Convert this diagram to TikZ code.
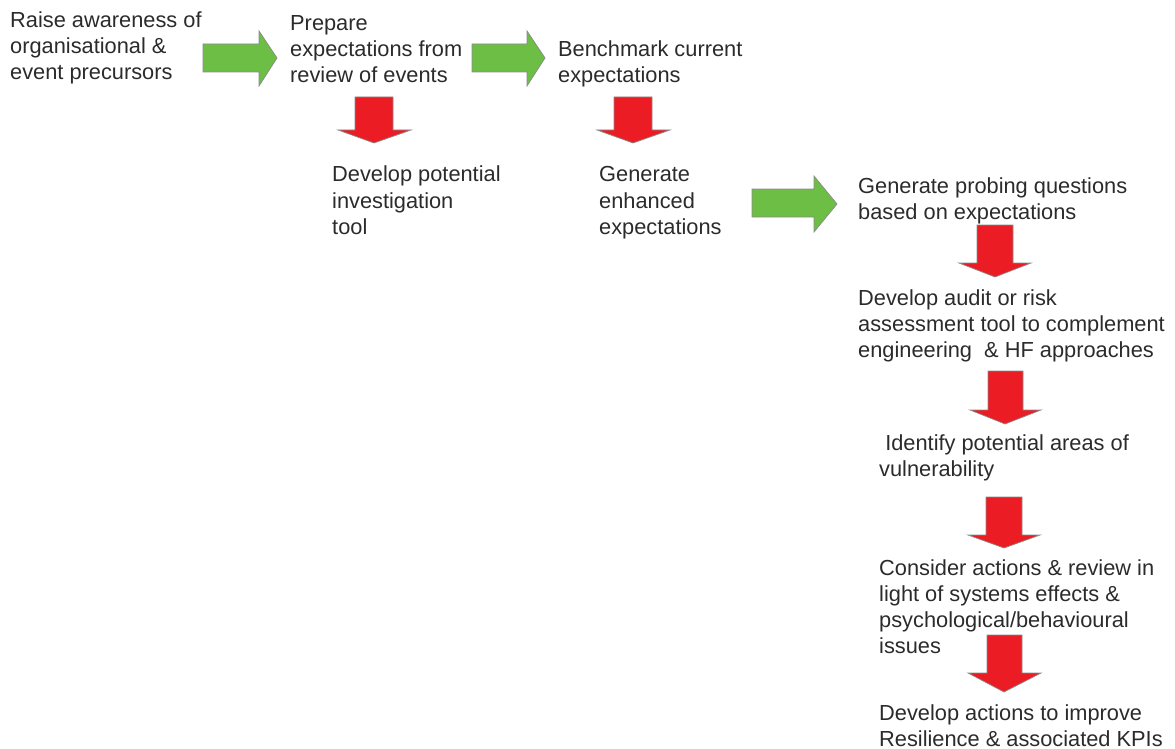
\documentclass[tikz,border=0pt]{standalone}
\usepackage{fontspec}
\setmainfont{Liberation Sans}
\definecolor{textgray}{HTML}{2B2B2B}
\definecolor{arrowgreen}{HTML}{6DBE45}
\definecolor{arrowred}{HTML}{EC1C24}
\definecolor{arrowedge}{HTML}{8A8A8A}
% multi-line text block whose baseline is the first line
\newcommand\txtblock[1]{\begin{tabular}[t]{@{}l@{}}#1\end{tabular}}
\tikzset{
  steptext/.style={anchor=base west, inner sep=0pt, text=textgray,
    font=\fontsize{21.8}{26}\selectfont},
  greenblock/.style={fill=arrowgreen, draw=arrowedge, line width=0.7pt, line join=miter},
  redblock/.style={fill=arrowred, draw=arrowedge, line width=0.7pt, line join=miter},
}
\begin{document}
\begin{tikzpicture}[x=1pt,y=-1pt]
\useasboundingbox (0,0) rectangle (1175,749);

% step texts
\node[steptext] (t1) at (10,28) {\txtblock{Raise awareness of\\organisational \&\\event precursors}};
\node[steptext] (t2) at (290,31) {\txtblock{Prepare\\expectations from\\review of events}};
\node[steptext] (t3) at (558,57) {\txtblock{Benchmark current\\expectations}};
\node[steptext] (t4) at (332,182) {\txtblock{Develop potential\\investigation\\tool}};
\node[steptext] (t5) at (599,182) {\txtblock{Generate\\enhanced\\expectations}};
\node[steptext] (t6) at (858,193) {\txtblock{Generate probing questions\\based on expectations}};
\node[steptext] (t7) at (858,305) {\txtblock{Develop audit or risk\\assessment tool to complement\\engineering~ \& HF approaches}};
\node[steptext] (t8) at (879,450) {\txtblock{\ Identify potential areas of\\vulnerability}};
\node[steptext] (t9) at (879,575) {\txtblock{Consider actions \& review in\\light of systems effects \&\\psychological/behavioural\\issues}};
\node[steptext] (t10) at (879,720) {\txtblock{Develop actions to improve\\Resilience \& associated KPIs}};

% right-pointing block arrows
\draw[greenblock] (203,44) -- (259,44) -- (259,31) -- (277,58) -- (259,86) -- (259,72) -- (203,72) -- cycle;
\draw[greenblock] (472,44) -- (527,44) -- (527,31) -- (545,58) -- (527,86) -- (527,72) -- (472,72) -- cycle;
\draw[greenblock] (752,189) -- (814,189) -- (814,176) -- (837,204) -- (814,232) -- (814,217) -- (752,217) -- cycle;

% down-pointing block arrows
\draw[redblock] (355,97) -- (393,97) -- (393,130) -- (411,130) -- (374,143) -- (338,130) -- (355,130) -- cycle;
\draw[redblock] (614,97) -- (652,97) -- (652,130) -- (670,130) -- (633,143) -- (597,130) -- (614,130) -- cycle;
\draw[redblock] (977,225) -- (1013,225) -- (1013,263) -- (1031,263) -- (995,277) -- (959,263) -- (977,263) -- cycle;
\draw[redblock] (988,371) -- (1023,371) -- (1023,410) -- (1041,410) -- (1005,424) -- (970,410) -- (988,410) -- cycle;
\draw[redblock] (986,497) -- (1022,497) -- (1022,535) -- (1040,535) -- (1004,548) -- (968,535) -- (986,535) -- cycle;
\draw[redblock] (987,635) -- (1022,635) -- (1022,673) -- (1041,673) -- (1004,692) -- (968,673) -- (987,673) -- cycle;
\end{tikzpicture}
\end{document}
